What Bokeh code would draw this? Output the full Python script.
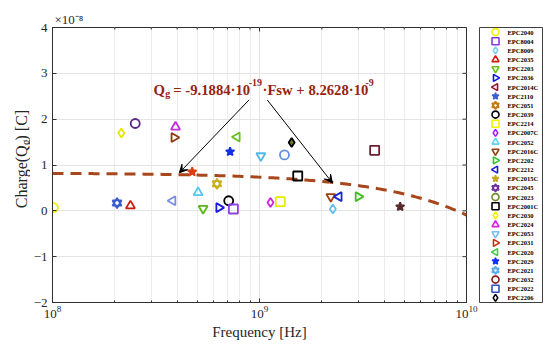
import numpy as np
from bokeh.plotting import figure
from bokeh.models import (Range1d, FactorRange, FixedTicker, Label, Arrow, VeeHead,
                          ColumnDataSource, Title)
from bokeh.layouts import row
from bokeh.embed import file_html
from bokeh.resources import INLINE
from bokeh.core.properties import value

# ---------------- data ----------------
devices = ["EPC2040", "EPC8004", "EPC8009", "EPC2035", "EPC2203", "EPC2036", "EPC2014C",
           "EPC2110", "EPC2051", "EPC2039", "EPC2214", "EPC2007C", "EPC2052", "EPC2016C",
           "EPC2202", "EPC2212", "EPC2015C", "EPC2045", "EPC2023", "EPC2001C", "EPC2030",
           "EPC2024", "EPC2053", "EPC2031", "EPC2020", "EPC2029", "EPC2021", "EPC2032",
           "EPC2022", "EPC2206"]

# measured points (frequency in Hz, charge in units of 1e-8 C)
point_device = ["EPC2040", "EPC2021", "EPC2035", "EPC2030", "EPC2032", "EPC2024", "EPC2031",
                "EPC2014C", "EPC2015C", "EPC2052", "EPC2203", "EPC2036", "EPC2051", "EPC2039",
                "EPC8004", "EPC2029", "EPC2020", "EPC2053", "EPC2206", "EPC2023", "EPC2001C",
                "EPC2007C", "EPC2214", "EPC2016C", "EPC2212", "EPC8009", "EPC2202", "EPC2022",
                "EPC2110"]
freq_hz = [1.01e8, 2.05e8, 2.38e8, 2.15e8, 2.51e8, 3.93e8, 3.87e8,
           3.81e8, 4.73e8, 5.05e8, 5.34e8, 6.37e8, 6.23e8, 7.10e8,
           7.48e8, 7.21e8, 7.79e8, 1.015e9, 1.43e9, 1.32e9, 1.53e9,
           1.13e9, 1.26e9, 2.21e9, 2.42e9, 2.26e9, 3.00e9, 3.60e9,
           4.78e9]
charge_e8 = [0.07, 0.17, 0.11, 1.70, 1.905, 1.83, 1.60,
             0.22, 0.85, 0.40, 0.05, 0.07, 0.59, 0.22,
             0.04, 1.29, 1.61, 1.20, 1.49, 1.22, 0.76,
             0.18, 0.20, 0.31, 0.31, 0.04, 0.31, 1.32,
             0.09]

FIT_SLOPE = -9.1884e-19      # C / Hz
FIT_INTERCEPT = 8.2628e-9    # C
CHARGE_UNIT = 1e-8

y_ticks = [-2, -1, 0, 1, 2, 3, 4]
x_ticks = [1e8, 1e9, 1e10]

# ---------------- styles ----------------
legend_marker = ["circle", "square", "diamond", "triangle", "inverted_triangle", "tri_right",
                 "tri_left", "star", "hexagram", "circle", "square", "diamond", "triangle",
                 "inverted_triangle", "tri_right", "tri_left", "star", "hexagram", "circle",
                 "square", "diamond", "triangle", "inverted_triangle", "tri_right", "tri_left",
                 "star", "hexagram", "circle", "square", "diamond"]
legend_color = ["#f2f200", "#8a3ad6", "#7ccdf0", "#d41a10", "#6cc414", "#1010f0", "#9a1030",
                "#3c5fd0", "#c8780c", "#000000", "#f2f200", "#a020f0", "#5cd4f6", "#8b4513",
                "#30c030", "#2020d0", "#c8a820", "#7030a0", "#6b8e23", "#000000", "#f2f200",
                "#e020e0", "#7cbcf0", "#c03010", "#40cc40", "#1030f8", "#5caaf0", "#8b1a1a",
                "#3050c0", "#000000"]
legend_filled = [m == "star" for m in legend_marker]

point_marker = ["circle", "hexagram", "triangle", "diamond", "circle", "triangle", "tri_right",
                "tri_left", "star", "triangle", "inverted_triangle", "tri_right", "hexagram", "circle",
                "square", "star", "tri_left", "inverted_triangle", "diamond", "circle", "square",
                "diamond", "square", "inverted_triangle", "tri_left", "diamond", "tri_right", "square",
                "star"]
point_color = ["#eeee00", "#3a5ccc", "#cc1a08", "#e6e600", "#5a2a82", "#c030e0", "#8b3a10",
               "#7b8fe0", "#e03a10", "#50c8f0", "#5cb818", "#1a1ae0", "#c8b020", "#000000",
               "#9040e0", "#1530e0", "#66c020", "#50b8e8", "#000000", "#6090e0", "#000000",
               "#d020e0", "#e8e800", "#a04010", "#1a2ad0", "#60c0e8", "#40c020", "#6a2030",
               "#5a2a2a"]
point_fill = [None] * len(point_marker)
point_fill[8] = "#e03a10"
point_fill[15] = "#1530e0"
point_fill[18] = "#6b7a20"
point_fill[28] = "#5a2a2a"

FONT = "Liberation Serif"
AXIS_COLOR = "#303030"
TXT_COLOR = "#262626"
EQ_COLOR = "#952414"

# page layout (pixels, whole page 550 x 350)
PAGE_W, PAGE_H = 550, 350
YLAB_W = 30                    # strip left of the plot (y axis title)
MAIN_W = 478                   # left part (strip + plot)
FRAME_L, FRAME_R, FRAME_T, FRAME_B = 48, 466, 27, 302


def px2x(px):
    return 10 ** (8 + 2 * (px - FRAME_L) / (FRAME_R - FRAME_L))


def px2y(py):
    return y_ticks[-1] - (py - FRAME_T) * (y_ticks[-1] - y_ticks[0]) / (FRAME_B - FRAME_T)


def expand(xs, ys, markers, colors, fills):
    rows = dict(x=[], y=[], marker=[], angle=[], line=[], fill=[], falpha=[])
    for x, y, m, c, f in zip(xs, ys, markers, colors, fills):
        parts = {"hexagram": [("triangle", 0.0), ("inverted_triangle", 0.0)],
                 "tri_right": [("triangle", -np.pi / 2)],
                 "tri_left": [("triangle", np.pi / 2)]}.get(m, [(m, 0.0)])
        for mk, ang in parts:
            rows["x"].append(x)
            rows["y"].append(y)
            rows["marker"].append(mk)
            rows["angle"].append(ang)
            rows["line"].append(c)
            rows["fill"].append(f if f else c)
            rows["falpha"].append(1.0 if f else 0.0)
    return ColumnDataSource(rows)


# ---------------- main plot ----------------
p_w = MAIN_W - YLAB_W
p = figure(width=p_w, height=PAGE_H, x_axis_type="log", title=None,
           x_range=Range1d(x_ticks[0], x_ticks[-1]), y_range=Range1d(y_ticks[0], y_ticks[-1]),
           output_backend="svg", toolbar_location=None,
           min_border=0, min_border_left=FRAME_L - YLAB_W, min_border_right=MAIN_W - FRAME_R,
           min_border_top=FRAME_T, min_border_bottom=PAGE_H - FRAME_B)
p.background_fill_color = "white"
p.border_fill_color = "white"
p.outline_line_color = AXIS_COLOR

minor = [k * 10 ** d for d in (8, 9) for k in range(2, 10)]
p.xaxis.ticker = FixedTicker(ticks=x_ticks, minor_ticks=minor)
p.yaxis.ticker = FixedTicker(ticks=y_ticks)
for ax in (p.xaxis[0], p.yaxis[0]):
    ax.major_label_text_font = FONT
    ax.major_label_text_font_size = "13px"
    ax.major_label_text_color = TXT_COLOR
    ax.axis_line_color = AXIS_COLOR
    ax.major_tick_line_color = AXIS_COLOR
    ax.minor_tick_line_color = AXIS_COLOR
    ax.major_tick_in = 4
    ax.major_tick_out = 0
    ax.minor_tick_in = 2
    ax.minor_tick_out = 0
p.xaxis.major_label_standoff = 3
p.yaxis.major_label_standoff = 5
p.xaxis.axis_label = "Frequency [Hz]"
p.xaxis.axis_label_text_font = FONT
p.xaxis.axis_label_text_font_size = "15px"
p.xaxis.axis_label_text_font_style = "normal"
p.xaxis.axis_label_text_color = TXT_COLOR
p.xaxis.axis_label_standoff = 3

p.xgrid.grid_line_color = "#e4e4e4"
p.xgrid.minor_grid_line_color = "#ececec"
p.ygrid.grid_line_color = "#e4e4e4"

# exponent of the y axis, above the top-left corner
p.add_layout(Title(text="×10⁻⁸", align="left", offset=2, standoff=1,
                   text_font=FONT, text_font_size="13px", text_font_style="normal",
                   text_color=TXT_COLOR), "above")

# box ticks on the top and right edges (drawn inside the frame)
top_x = x_ticks + minor
top_len = [4] * len(x_ticks) + [2] * len(minor)
p.segment(x0=top_x, x1=top_x, y0=[y_ticks[-1]] * len(top_x),
          y1=[px2y(FRAME_T + L) for L in top_len], line_color=AXIS_COLOR, line_width=1)
p.segment(x0=[x_ticks[-1]] * len(y_ticks), x1=[px2x(FRAME_R - 4)] * len(y_ticks),
          y0=y_ticks, y1=y_ticks, line_color=AXIS_COLOR, line_width=1)

# fit line
f_line = np.logspace(np.log10(x_ticks[0]), np.log10(x_ticks[-1]), 200)
q_line = (FIT_SLOPE * f_line + FIT_INTERCEPT) / CHARGE_UNIT
p.line(f_line, q_line, line_color="#a8461c", line_width=3, line_dash="11 7")

# data points
src = expand(freq_hz, charge_e8, point_marker, point_color, point_fill)
p.scatter(x="x", y="y", marker="marker", angle="angle", size=9, source=src,
          line_color="line", fill_color="fill", fill_alpha="falpha", line_width=1.8)

# arrows
for xs, ys, xe, ye in [(8.9e8, 2.42, 4.1e8, 0.83), (1.09e9, 2.42, 2.25e9, 0.61)]:
    p.add_layout(Arrow(end=VeeHead(size=8, line_color="black", fill_color="black", line_width=1),
                       x_start=xs, y_start=ys, x_end=xe, y_end=ye,
                       line_color="black", line_width=1))

# equation (pieces placed one after another)
eq_parts = [("Q", 14.7, 0), ("g", 10, 4), ("= -9.1884·10", 14.7, 0), ("-19", 10, -7),
            ("·Fsw + 8.2628·10", 14.7, 0), ("-9", 10, -7)]
eq_w = [0.778 * 14.7 + 0.5, 0.5 * 10 + 3, 5.153 * 14.7 + 0.5, 1.333 * 10 + 0.5, 7.042 * 14.7 + 0.5, 0]
cx = 150
for (txt, sz, dy), w in zip(eq_parts, eq_w):
    p.add_layout(Label(x=px2x(cx), y=px2y(89 + dy), text=txt, text_font=FONT,
                       text_font_size=f"{sz}px", text_color=EQ_COLOR, text_font_style="bold",
                       text_align="left", text_baseline="alphabetic"))
    cx += w

# ---------------- strip left of the plot: y axis title ----------------
ylab = figure(width=YLAB_W, height=PAGE_H, x_range=Range1d(0, YLAB_W), y_range=Range1d(0, PAGE_H),
              output_backend="svg", toolbar_location=None, min_border=0,
              x_axis_location=None, y_axis_location=None)
ylab.grid.visible = False
ylab.outline_line_color = None
ylab.background_fill_color = "white"
ylab.border_fill_color = "white"

# rotated title pieces, anchored around the subscript so they always join up
G_START = 150.0   # page y where the subscript "g" begins (text reads upwards)
for txt, bx, by, sz, align in [("Charge(Q", 21, G_START, 16, "right"),
                               ("g", 25, G_START, 11.5, "left"),
                               (") [C]", 21, G_START - 6.2, 16, "left")]:
    ylab.text(x=[bx], y=[PAGE_H - by], text=[txt], text_font=value(FONT),
              text_font_size=f"{sz}px", text_color=TXT_COLOR,
              text_align=align, text_baseline="alphabetic", angle=np.pi / 2)

# ---------------- legend panel ----------------
leg = figure(width=PAGE_W - MAIN_W, height=PAGE_H, x_range=Range1d(0, 63),
             y_range=FactorRange(factors=devices[::-1]),
             output_backend="svg", toolbar_location=None,
             min_border=0, min_border_left=1, min_border_right=PAGE_W - MAIN_W - 64,
             min_border_top=13, min_border_bottom=13,
             x_axis_location=None, y_axis_location=None)
leg.grid.visible = False
leg.outline_line_color = "#404040"
leg.background_fill_color = "white"
leg.border_fill_color = "white"
lsrc = expand([16] * len(devices), devices, legend_marker, legend_color,
              [c if f else None for c, f in zip(legend_color, legend_filled)])
leg.scatter(x="x", y="y", marker="marker", angle="angle", size=7, source=lsrc,
            line_color="line", fill_color="fill", fill_alpha="falpha", line_width=1.6)
leg.text(x=[28] * len(devices), y=devices, text=devices, text_font=value(FONT),
         text_font_size="6.5px", text_font_style="bold", text_color="black",
         text_baseline="middle", text_align="left")

layout = row(ylab, p, leg)
open("out.html", "w").write(file_html(layout, INLINE))
